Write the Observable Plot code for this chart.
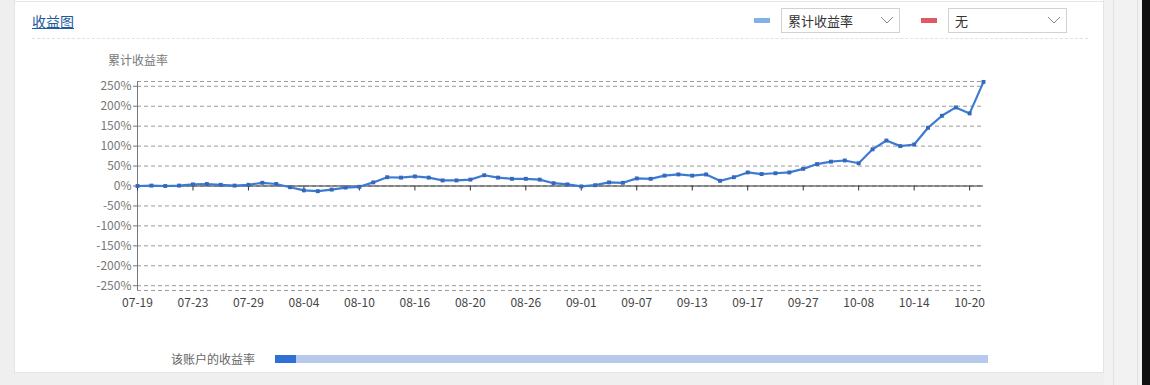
<!DOCTYPE html>
<html><head><meta charset="utf-8">
<script src="https://cdn.jsdelivr.net/npm/d3@7"></script>
<script src="https://cdn.jsdelivr.net/npm/@observablehq/plot@0.6"></script>
<style>
html,body{margin:0;padding:0;}
body{width:1150px;height:385px;overflow:hidden;background:#efefef;position:relative;font-family:"Noto Sans CJK SC","Noto Sans",sans-serif;}
.abs{position:absolute;}
#card{left:14px;top:0;width:1090px;height:373px;background:#fff;border:1px solid #e4e4e4;border-top:none;box-sizing:border-box;}
#topline{left:14px;top:1px;width:1090px;height:1px;background:#e6e6e6;}
#title{left:32px;top:11px;font-size:14px;color:#1d5a9e;text-decoration:underline;line-height:20px;}
#sep{left:32px;top:38px;width:1056px;border-top:1px dashed #e2e2e2;}
.sw{width:16px;height:5px;top:18px;}
.dd{top:8px;width:119px;height:25px;border:1px solid #d2d2d2;box-sizing:border-box;background:#fff;font-size:13px;color:#333;line-height:23px;padding-left:6px;}
.dd svg{position:absolute;right:5px;top:7px;}
#ytitle{left:108px;top:51px;font-size:12px;color:#777;line-height:18px;}
#blabel{left:171px;top:350px;font-size:12px;color:#666;line-height:18px;}
#bar{left:275px;top:355px;width:713px;height:8px;background:#b6c9eb;}
#barfill{left:275px;top:355px;width:21px;height:8px;background:#2f6fd6;}
#rs1{left:1104px;top:0;width:38px;height:385px;background:#f2f2f2;}
#rl1{left:1113px;top:0;width:1px;height:385px;background:#e3e3e3;}
#rl2{left:1137px;top:0;width:1px;height:385px;background:#e0e0e0;}
#rb{left:1142px;top:0;width:8px;height:385px;background:#111;}
#chart{left:0;top:0;}
</style></head>
<body>
<div id="card" class="abs"></div>
<div id="topline" class="abs"></div>
<div id="rs1" class="abs"></div><div id="rl1" class="abs"></div><div id="rl2" class="abs"></div><div id="rb" class="abs"></div>
<div id="title" class="abs">收益图</div>
<div id="sep" class="abs"></div>
<div class="abs sw" style="left:754px;background:#7eb3e8;"></div>
<div class="abs dd" style="left:781px;">累计收益率<svg width="14" height="9"><polyline points="1,1 7,7 13,1" fill="none" stroke="#888" stroke-width="1"/></svg></div>
<div class="abs sw" style="left:921px;background:#dd5a64;"></div>
<div class="abs dd" style="left:948px;">无<svg width="14" height="9"><polyline points="1,1 7,7 13,1" fill="none" stroke="#888" stroke-width="1"/></svg></div>
<div id="ytitle" class="abs">累计收益率</div>
<div id="blabel" class="abs">该账户的收益率</div>
<div id="bar" class="abs"></div>
<div id="barfill" class="abs"></div>
<div id="chart" class="abs"></div>
<script>
// cumulative return (%) per trading day, index 0..61
const returns = [0,1,0,1,4,5,3,1,3,8,5,-3,-11,-13,-9,-4,-2,9,22,21,
  24,21,14,14,16,27,21,18,18,16,7,4,-1,2,9,8,19,18,26,29,
  26,29,13,22,34,30,32,34,43,55,61,64,57,92,114,100,104,146,176,197,
  182,261];
// labels shown every 4 trading days
const tickLabels = ["07-19","07-23","07-29","08-04","08-10","08-16","08-20","08-26",
  "09-01","09-07","09-13","09-17","09-27","10-08","10-14","10-20"];
const tickStep = 4;
const yTicks = [-250,-200,-150,-100,-50,0,50,100,150,200,250];
const yMax = 262;

const data = returns.map((v,i)=>({i, v}));
const tickIdx = tickLabels.map((_,k)=>k*tickStep);

const chart = Plot.plot({
  width:1150, height:385,
  marginLeft:137, marginRight:167, marginTop:81, marginBottom:95,
  style:{background:"transparent", fontFamily:'"Noto Sans CJK SC","Noto Sans",sans-serif', fontSize:"12px"},
  x:{type:"point", domain:d3.range(returns.length), padding:0},
  y:{domain:[-yMax,yMax]},
  marks:[
    Plot.gridY(yTicks,{stroke:"#9a9a9a", strokeOpacity:1, strokeDasharray:"4,3"}),
    Plot.ruleY([-yMax,yMax],{stroke:"#9a9a9a", strokeDasharray:"4,3"}),
    Plot.ruleX([0],{stroke:"#777"}),
    Plot.axisY(yTicks,{tickSize:4, tickPadding:2, tickFormat:d=>d+"%", stroke:"#777", fill:"#777", label:null, fontSize:12}),
    Plot.axisX(tickIdx,{anchor:"bottom", tickSize:0, tickPadding:8, tickFormat:(d)=>tickLabels[d/tickStep], fill:"#444", label:null, fontSize:12}),
    Plot.ruleY([0],{stroke:"#333", strokeWidth:1.2}),
    Plot.ruleX(tickIdx,{x:d=>d, y1:0, y2:0, insetBottom:-5, stroke:"#333"}),
    Plot.line(data,{x:"i", y:"v", stroke:"#3d7bd0", strokeWidth:2.2}),
    Plot.dot(data,{x:"i", y:"v", symbol:"square", r:2.2, fill:"#3568bd"})
  ]
});
document.getElementById("chart").appendChild(chart);
</script>
</body></html>
